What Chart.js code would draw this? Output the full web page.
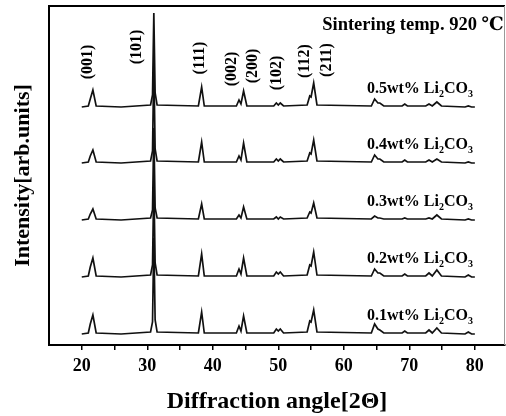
<!DOCTYPE html>
<html>
<head>
<meta charset="utf-8">
<script src="https://cdn.jsdelivr.net/npm/chart.js@4/dist/chart.umd.min.js"></script>
<style>
  html, body { margin: 0; padding: 0; background: #fff; }
</style>
</head>
<body>
<canvas id="graficoXRD" width="506" height="416"></canvas>
<script>
/* ==========================================================================
   1. DATOS
   ========================================================================== */
// ángulos 2θ donde se leyó cada curva
const angulos = [20, 21.0, 21.3, 21.7, 22.2, 26, 30.5, 30.8, 31.0, 31.2, 31.5, 37.8, 38.3, 38.7,
    43.6, 44.0, 44.3, 44.7, 45.2, 49.3, 49.7, 50.0, 50.3, 50.8, 54.4, 54.8, 55.0, 55.4, 55.9,
    64.2, 64.7, 65.2, 65.5, 66.1, 68.9, 69.3, 69.7, 72.5, 73.0, 73.5, 74.2, 74.9, 78.5, 79.0, 79.5, 80];

// intensidad (u.a.) de cada muestra, sin desplazamiento
const int01 = [0, 1, 10, 19, 1, 0, 2, 12, 96, 14, 2, 1, 22, 1, 1, 8, 3, 18, 1, 1, 5, 3, 5, 1, 2, 13, 12, 24, 2,
    1, 10, 5, 4, 1, 1, 3, 1, 1, 4, 1, 6, 1, 0, 2, 0, 0];
const int02 = [0, 1, 10, 19, 1, 0, 2, 12, 96, 14, 2, 1, 23, 1, 1, 8, 3, 19, 1, 1, 5, 3, 5, 1, 2, 12, 11, 25, 2,
    1, 8, 4, 4, 1, 1, 3, 1, 1, 4, 1, 7, 1, 0, 2, 0, 0];
const int03 = [0, 1, 6, 11, 1, 0, 2, 10, 92, 12, 2, 1, 16, 1, 1, 5, 2, 13, 1, 1, 3, 1, 3, 1, 2, 8, 7, 17, 2,
    1, 4, 2, 2, 1, 1, 2, 1, 1, 2, 1, 5, 1, 0, 1, 0, 0];
const int04 = [0, 1, 7, 13, 1, 0, 2, 12, 100, 14, 2, 1, 21, 1, 1, 7, 3, 20, 1, 1, 4, 2, 4, 1, 2, 10, 9, 23, 2,
    1, 8, 4, 4, 1, 1, 3, 1, 1, 3, 1, 4, 1, 0, 1, 0, 0];
const int05 = [0, 1, 8, 17, 1, 0, 2, 12, 94, 14, 2, 1, 20, 1, 1, 7, 3, 16, 1, 1, 4, 2, 4, 1, 2, 11, 10, 24, 2,
    1, 8, 4, 4, 1, 1, 3, 1, 1, 3, 1, 5, 1, 0, 1, 0, 0];

const muestras = ['0.1wt% Li₂CO₃', '0.2wt% Li₂CO₃', '0.3wt% Li₂CO₃', '0.4wt% Li₂CO₃', '0.5wt% Li₂CO₃'];
const intensidades = [int01, int02, int03, int04, int05];
const desplazamientos = [11, 68, 125, 182, 238];   // separación vertical de cada curva

// índices de Miller
const planos = ['(001)', '(101)', '(111)', '(002)', '(200)', '(102)', '(112)', '(211)'];
const planosAngulo = [20.9, 28.4, 38.0, 42.9, 46.1, 49.8, 54.0, 57.4];
const planosAltura = [283, 298, 287, 276, 279, 272, 284, 285];

const ticksX = [20, 25, 30, 35, 40, 45, 50, 55, 60, 65, 70, 75, 80];

const SERIF = '"Liberation Serif", "DejaVu Serif", serif';

/* ==========================================================================
   2. TEXTOS Y MARCO
   ========================================================================== */
const SUB = { '₀': '0', '₁': '1', '₂': '2', '₃': '3', '₄': '4', '₅': '5' };

function textoConSubindices(ctx, texto, xDer, yBase, tam) {
    const fNormal = `bold ${tam}px ${SERIF}`;
    const fSub = `bold ${Math.round(tam * 0.62)}px ${SERIF}`;
    const partes = [...texto].map(c => SUB[c] ? { t: SUB[c], sub: true } : { t: c, sub: false });
    let ancho = 0;
    partes.forEach(p => { ctx.font = p.sub ? fSub : fNormal; ancho += ctx.measureText(p.t).width; });
    let cx = xDer - ancho;
    ctx.textAlign = 'left';
    ctx.textBaseline = 'alphabetic';
    partes.forEach(p => {
        ctx.font = p.sub ? fSub : fNormal;
        ctx.fillText(p.t, cx, p.sub ? yBase + tam * 0.28 : yBase);
        cx += ctx.measureText(p.t).width;
    });
}

const pluginTextos = {
    id: 'textos',
    afterDatasetsDraw(chart) {
        const { ctx, chartArea: a, scales: { x, y } } = chart;
        ctx.save();

        // marco superior y derecho
        ctx.strokeStyle = '#000';
        ctx.lineWidth = 2;
        ctx.beginPath();
        ctx.moveTo(a.left, a.top);
        ctx.lineTo(a.right, a.top);
        ctx.stroke();
        ctx.strokeStyle = '#999';
        ctx.lineWidth = 1;
        ctx.beginPath();
        ctx.moveTo(a.right - 0.5, a.top);
        ctx.lineTo(a.right - 0.5, a.bottom);
        ctx.stroke();

        ctx.fillStyle = '#000';

        // índices (hkl) en vertical
        ctx.font = `bold 16px ${SERIF}`;
        ctx.textAlign = 'center';
        ctx.textBaseline = 'middle';
        planos.forEach((p, i) => {
            ctx.save();
            ctx.translate(x.getPixelForValue(planosAngulo[i]), y.getPixelForValue(planosAltura[i]));
            ctx.rotate(-Math.PI / 2);
            ctx.fillText(p, 0, 0);
            ctx.restore();
        });

        // nombre de cada muestra
        muestras.forEach((m, i) => {
            textoConSubindices(ctx, m, x.getPixelForValue(79.7), y.getPixelForValue(desplazamientos[i] + 14), 16);
        });

        // temperatura de sinterización
        ctx.font = `bold 18.5px ${SERIF}`;
        ctx.textAlign = 'right';
        ctx.textBaseline = 'alphabetic';
        ctx.fillText('Sintering temp. 920 ℃', x.getPixelForValue(84.4), y.getPixelForValue(315));

        ctx.restore();
    }
};

/* ==========================================================================
   3. GRÁFICO
   ========================================================================== */
const datasets = intensidades.map((serie, i) => ({
    label: muestras[i],
    data: angulos.map((a, j) => ({ x: a, y: serie[j] + desplazamientos[i] })),
    borderColor: '#111',
    borderWidth: 1.7,
    pointRadius: 0,
    tension: 0,
    fill: false
}));

new Chart(document.getElementById('graficoXRD').getContext('2d'), {
    type: 'line',
    data: { datasets },
    options: {
        responsive: false,
        animation: false,
        layout: { padding: { top: 6, right: 1, left: 0, bottom: 0 } },
        plugins: { legend: { display: false }, tooltip: { enabled: false } },
        scales: {
            x: {
                type: 'linear',
                min: 15,
                max: 84.6,
                afterFit: s => { s.height = 71; },
                afterBuildTicks: s => { s.ticks = ticksX.map(v => ({ value: v })); },
                grid: { drawOnChartArea: false, tickLength: 5, color: '#000', lineWidth: 1.5 },
                border: { display: true, color: '#000', width: 2 },
                ticks: {
                    color: '#000',
                    padding: 6,
                    maxRotation: 0,
                    autoSkip: false,
                    font: { family: SERIF, size: 18, weight: 'bold' },
                    callback: v => (v % 10 === 0 ? v : '')
                },
                title: {
                    display: true,
                    text: 'Diffraction angle[2Θ]',
                    color: '#000',
                    padding: { top: 0, bottom: 0 },
                    font: { family: SERIF, size: 24, weight: 'bold' }
                }
            },
            y: {
                min: 0,
                max: 339,
                afterFit: s => { s.width = 49; },
                grid: { display: false },
                border: { display: true, color: '#000', width: 2 },
                ticks: { display: false },
                title: {
                    display: true,
                    text: 'Intensity[arb.units]',
                    color: '#000',
                    padding: { top: 10, bottom: 0 },
                    font: { family: SERIF, size: 22, weight: 'bold' }
                }
            }
        }
    },
    plugins: [pluginTextos]
});
</script>
</body>
</html>
